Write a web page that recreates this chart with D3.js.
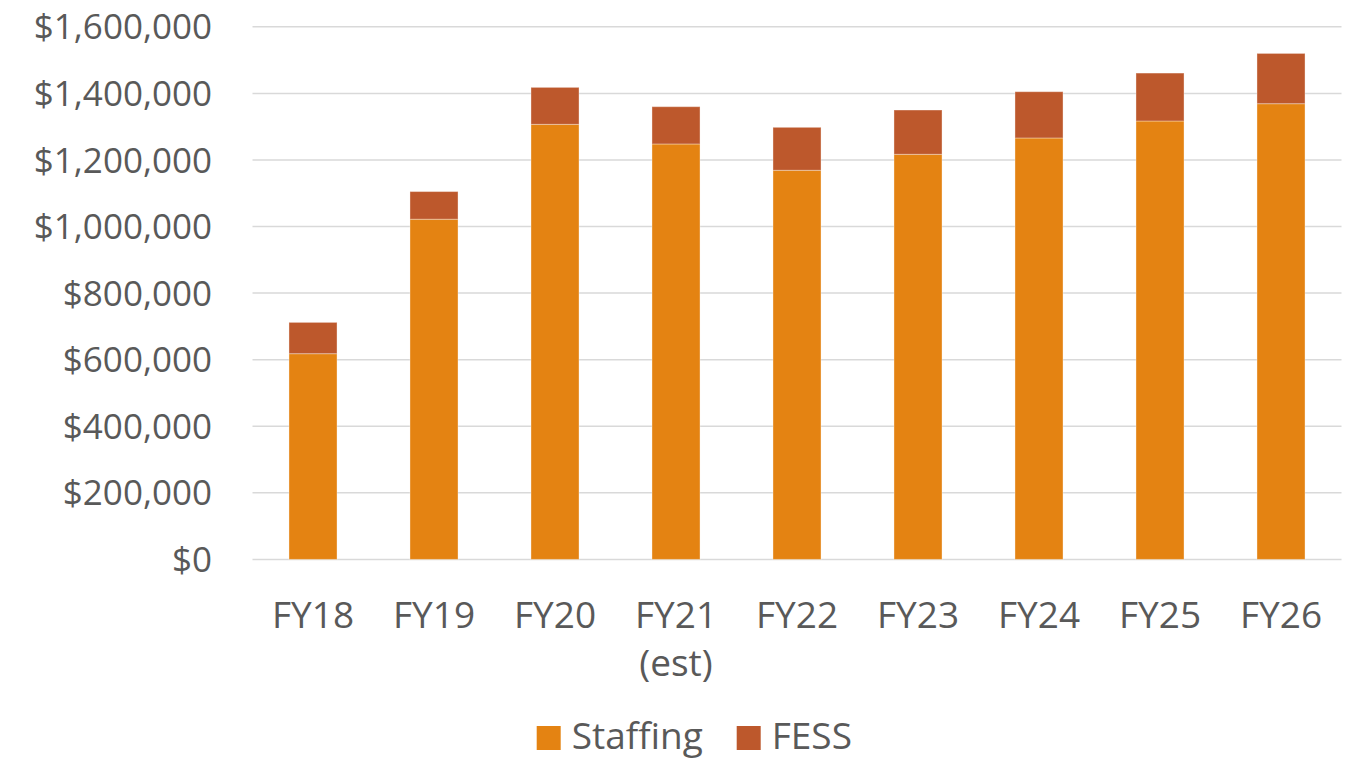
<!DOCTYPE html>
<html>
<head>
<meta charset="utf-8">
<script src="https://cdn.jsdelivr.net/npm/d3@7"></script>
<style>
  body { margin: 0; background: #fff; }
  text { font-family: "Open Sans", sans-serif; fill: #595959; }
</style>
</head>
<body>
<script>
// data
var years = ["FY18", "FY19", "FY20", "FY21", "FY22", "FY23", "FY24", "FY25", "FY26"];
var yearNotes = ["", "", "", "(est)", "", "", "", "", ""];
var staffing = [618000, 1022000, 1307000, 1248000, 1169000, 1217000, 1266000, 1317000, 1369000];
var fess = [94000, 83000, 111000, 112000, 129000, 133000, 139000, 144000, 151000];
var yTicks = [0, 200000, 400000, 600000, 800000, 1000000, 1200000, 1400000, 1600000];
var seriesNames = ["Staffing", "FESS"];
var seriesColors = ["#E48312", "#BD582C"];

// set up variables
var canvasWidth = 1350,
    canvasHeight = 761,
    plotLeft = 252.5,
    plotRight = 1341.5,
    plotTop = 26.8,
    plotBottom = 559.4;

var figure = d3.select("body")
    .append("svg")
        .attr("width", canvasWidth)
        .attr("height", canvasHeight);

var rows = years.map(function(d, i) {
    return { year: d, note: yearNotes[i], Staffing: staffing[i], FESS: fess[i] };
});

var x = d3.scaleBand()
    .domain(years)
    .range([plotLeft, plotRight])
    .paddingInner(0.603)
    .paddingOuter(0.3015);

var y = d3.scaleLinear()
    .domain([0, 1600000])
    .range([plotBottom, plotTop]);

var fmt = d3.format("$,");

// gridlines
figure.append("g")
    .attr("class", "grid")
    .selectAll("line")
    .data(yTicks)
    .enter()
    .append("line")
    .attr("x1", plotLeft)
    .attr("x2", plotRight)
    .attr("y1", function(d) { return y(d); })
    .attr("y2", function(d) { return y(d); })
    .attr("stroke", "#D9D9D9")
    .attr("stroke-width", 1.5);

// y labels
figure.append("g")
    .attr("class", "y-labels")
    .selectAll("text")
    .data(yTicks)
    .enter()
    .append("text")
    .attr("x", 212)
    .attr("y", function(d) { return y(d); })
    .attr("dy", "0.36em")
    .attr("text-anchor", "end")
    .style("font-size", "35px")
    .text(function(d) { return fmt(d); });

// stacked bars
var stack = d3.stack().keys(seriesNames)(rows);

figure.append("g")
    .attr("class", "bars")
    .selectAll("g")
    .data(stack)
    .enter()
    .append("g")
    .attr("fill", function(d, i) { return seriesColors[i]; })
    .selectAll("rect")
    .data(function(d) { return d; })
    .enter()
    .append("rect")
    .attr("x", function(d) { return x(d.data.year); })
    .attr("width", x.bandwidth())
    .attr("y", function(d) { return y(d[1]); })
    .attr("height", function(d) { return y(d[0]) - y(d[1]); })
    .attr("stroke", "rgba(255,255,255,0.35)")
    .attr("stroke-width", 1);

// x labels
var xl = figure.append("g")
    .attr("class", "x-labels")
    .selectAll("text")
    .data(rows)
    .enter()
    .append("text")
    .attr("text-anchor", "middle")
    .style("font-size", "37px")
    .attr("x", function(d) { return x(d.year) + x.bandwidth() / 2; })
    .attr("y", 628);

xl.append("tspan")
    .attr("x", function(d) { return x(d.year) + x.bandwidth() / 2; })
    .text(function(d) { return d.year; });

xl.append("tspan")
    .attr("x", function(d) { return x(d.year) + x.bandwidth() / 2; })
    .attr("dy", 48)
    .text(function(d) { return d.note; });

// legend
var legendX = [536.7, 736.7];
var legend = figure.append("g")
    .attr("class", "legend")
    .selectAll("g")
    .data(seriesNames)
    .enter()
    .append("g")
    .attr("transform", function(d, i) { return "translate(" + legendX[i] + ",726)"; });

legend.append("rect")
    .attr("width", 24)
    .attr("height", 24)
    .attr("fill", function(d, i) { return seriesColors[i]; });

legend.append("text")
    .attr("x", 35)
    .attr("y", 23)
    .style("font-size", "37px")
    .text(function(d) { return d; });
</script>
</body>
</html>
